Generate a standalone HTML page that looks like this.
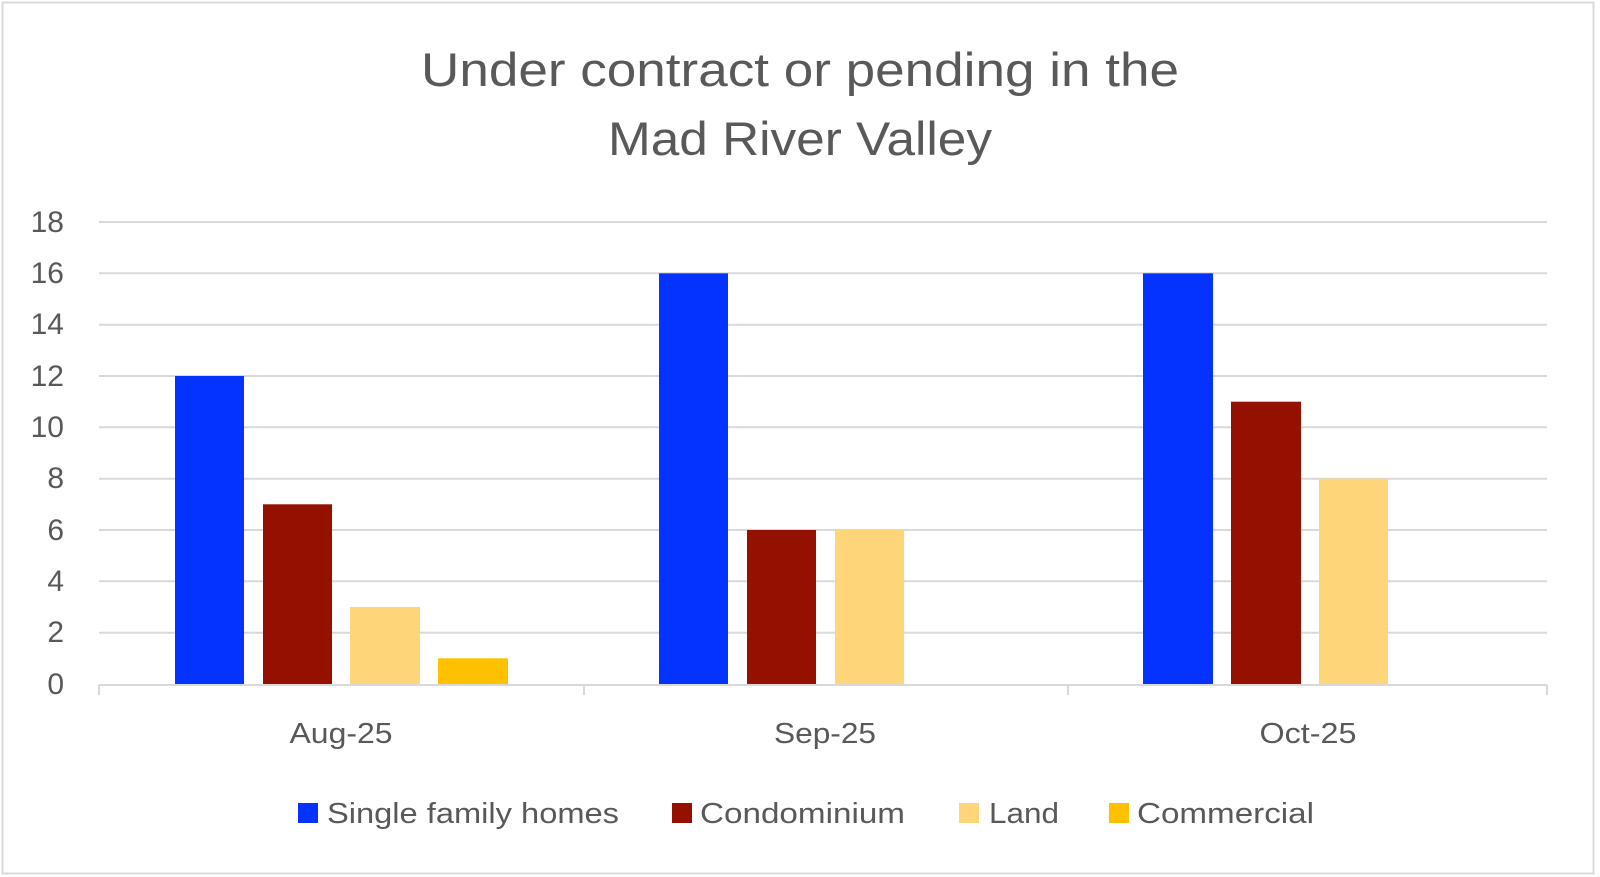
<!DOCTYPE html>
<html><head><meta charset="utf-8"><style>
body{margin:0;background:#fff;}
svg{display:block;font-family:"Liberation Sans",sans-serif;fill:#595959;}
</style></head><body>
<svg width="1600" height="877" viewBox="0 0 1600 877" xmlns="http://www.w3.org/2000/svg">
<rect x="2.5" y="2.5" width="1591" height="871" fill="#fff" stroke="#d9d9d9" stroke-width="2"/>
<text x="800" y="86" font-size="47" text-anchor="middle" textLength="758" lengthAdjust="spacingAndGlyphs">Under contract or pending in the</text>
<text x="800" y="155" font-size="47" text-anchor="middle" textLength="384" lengthAdjust="spacingAndGlyphs">Mad River Valley</text>
<g stroke="#d9d9d9" stroke-width="2">
<line x1="99" x2="1547" y1="222" y2="222"/>
<line x1="99" x2="1547" y1="273.3" y2="273.3"/>
<line x1="99" x2="1547" y1="324.7" y2="324.7"/>
<line x1="99" x2="1547" y1="376" y2="376"/>
<line x1="99" x2="1547" y1="427.3" y2="427.3"/>
<line x1="99" x2="1547" y1="478.7" y2="478.7"/>
<line x1="99" x2="1547" y1="530" y2="530"/>
<line x1="99" x2="1547" y1="581.3" y2="581.3"/>
<line x1="99" x2="1547" y1="632.7" y2="632.7"/>
<line x1="99" x2="1547" y1="685" y2="685"/>
<line x1="99" x2="99" y1="685" y2="695"/>
<line x1="584" x2="584" y1="685" y2="695"/>
<line x1="1068" x2="1068" y1="685" y2="695"/>
<line x1="1547" x2="1547" y1="685" y2="695"/>
</g>
<g font-size="30" text-anchor="end">
<text x="64" y="232">18</text><text x="64" y="283">16</text><text x="64" y="334">14</text>
<text x="64" y="386">12</text><text x="64" y="437">10</text><text x="64" y="488">8</text>
<text x="64" y="540">6</text><text x="64" y="591">4</text><text x="64" y="642">2</text>
<text x="64" y="694">0</text>
</g>
<g>
<rect x="175" y="376" width="69" height="308" fill="#0433ff"/>
<rect x="263" y="504.3" width="69" height="179.7" fill="#941100"/>
<rect x="350" y="607" width="70" height="77" fill="#ffd579"/>
<rect x="438" y="658.3" width="70" height="25.7" fill="#ffc000"/>
<rect x="659" y="273.3" width="69" height="410.7" fill="#0433ff"/>
<rect x="747" y="530" width="69" height="154" fill="#941100"/>
<rect x="835" y="530" width="69" height="154" fill="#ffd579"/>
<rect x="1143" y="273.3" width="70" height="410.7" fill="#0433ff"/>
<rect x="1231" y="401.7" width="70" height="282.3" fill="#941100"/>
<rect x="1319" y="478.7" width="69" height="205.3" fill="#ffd579"/>
</g>
<g font-size="29" text-anchor="middle">
<text x="341" y="743" textLength="103" lengthAdjust="spacingAndGlyphs">Aug-25</text>
<text x="825" y="743" textLength="102" lengthAdjust="spacingAndGlyphs">Sep-25</text>
<text x="1308" y="743" textLength="97" lengthAdjust="spacingAndGlyphs">Oct-25</text>
</g>
<g font-size="29">
<rect x="298" y="803" width="20" height="20" fill="#0433ff"/>
<text x="327" y="823" textLength="292" lengthAdjust="spacingAndGlyphs">Single family homes</text>
<rect x="672" y="803" width="20" height="20" fill="#941100"/>
<text x="700" y="823" textLength="205" lengthAdjust="spacingAndGlyphs">Condominium</text>
<rect x="959" y="803" width="20" height="20" fill="#ffd579"/>
<text x="989" y="823" textLength="70" lengthAdjust="spacingAndGlyphs">Land</text>
<rect x="1109" y="803" width="20" height="20" fill="#ffc000"/>
<text x="1137" y="823" textLength="177" lengthAdjust="spacingAndGlyphs">Commercial</text>
</g>
</svg>
</body></html>
